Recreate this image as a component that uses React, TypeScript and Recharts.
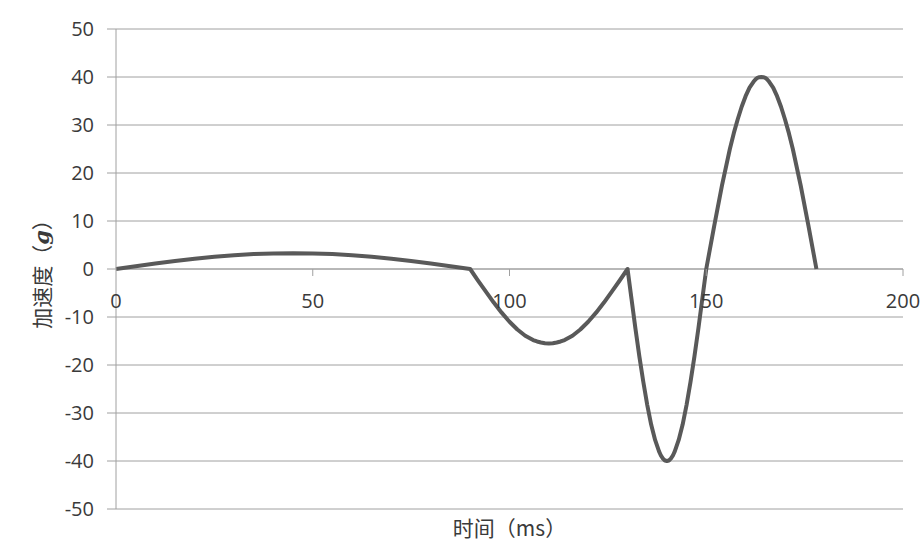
import { CartesianGrid, Line, LineChart, ReferenceLine, XAxis, YAxis } from "recharts";

// 时间 (ms)
const timeMs = [
  0, 5, 10, 15, 20, 25, 30, 35, 40, 45, 50, 55, 60, 65, 70, 75, 80, 85, 90,
  92, 94, 96, 98, 100, 102, 104, 106, 107, 108, 109, 110, 111, 112, 113, 114, 116, 118, 120, 122, 124, 126, 128, 130,
  131, 132, 133, 134, 135, 136, 137, 138, 138.5, 139, 139.5, 140, 140.5, 141, 141.5, 142, 143, 144, 145, 146, 147, 148, 149, 150,
  152, 154, 156, 157, 158, 159, 160, 161, 162, 162.5, 163, 163.5, 164, 164.5, 165, 165.5, 166, 167, 168, 169, 170, 171, 172, 174, 176, 178,
];

// 加速度 (g)
const accelG = [
  0, 0.57, 1.13, 1.65, 2.12, 2.53, 2.86, 3.1, 3.25, 3.3, 3.25, 3.1, 2.86, 2.53, 2.12, 1.65, 1.13, 0.57, 0,
  -2.4, -4.7, -7.0, -9.1, -11.0, -12.6, -13.9, -14.8, -15.1, -15.3, -15.45, -15.5, -15.45, -15.3, -15.1, -14.8, -13.9, -12.6, -11.0, -9.1, -7.0, -4.7, -2.4, 0,
  -6.2, -12.4, -18.2, -23.5, -28.3, -32.4, -35.6, -38.0, -38.9, -39.5, -39.9, -40, -39.9, -39.5, -38.9, -38.0, -35.6, -32.4, -28.3, -23.5, -18.2, -12.4, -6.2, 0,
  8.9, 17.4, 25.0, 28.3, 31.2, 33.8, 36.0, 37.8, 39.0, 39.5, 39.8, 39.95, 40, 39.95, 39.8, 39.5, 39.0, 37.8, 36.0, 33.8, 31.2, 28.3, 25.0, 17.4, 8.9, 0,
];

const xTicks = [0, 50, 100, 150, 200];
const yTicks = [-50, -40, -30, -20, -10, 0, 10, 20, 30, 40, 50];

const data = timeMs.map((t, i) => ({ t, a: accelG[i] }));

const W = 923;
const H = 546;
const TOP = 29;
const BOTTOM = 37;
const PLOT_H = H - TOP - BOTTOM;
const GRID = "#a0a0a0";
const TEXT = "#3a3a3a";
const FONT = "'Open Sans', 'Noto Sans', sans-serif";
const CJK = "'Noto Sans CJK SC', sans-serif";

// x axis crosses at y = 0, which is half way up the plot
function XTick({ x, y, payload }: any) {
  const y0 = y - PLOT_H / 2;
  return (
    <g>
      {payload.value !== 0 && <line x1={x} x2={x} y1={y0} y2={y0 + 7} stroke={GRID} />}
      <text
        x={x}
        y={y0 + 31}
        textAnchor="middle"
        dominantBaseline="central"
        fill={TEXT}
        fontSize={20}
        fontFamily={FONT}
      >
        {payload.value}
      </text>
    </g>
  );
}

function YTitle({ viewBox }: any) {
  const cx = viewBox.x + 41;
  const cy = viewBox.y + viewBox.height / 2;
  return (
    <text
      x={cx}
      y={cy}
      transform={`rotate(-90 ${cx} ${cy})`}
      textAnchor="middle"
      dominantBaseline="central"
      fill={TEXT}
      fontSize={21}
      fontFamily={CJK}
    >
      加速度（<tspan fontStyle="italic" fontWeight="bold" fontFamily="'DejaVu Serif', serif">g</tspan>）
    </text>
  );
}

function XTitle({ viewBox }: any) {
  return (
    <text
      x={viewBox.x + viewBox.width / 2}
      y={viewBox.y + 18}
      textAnchor="middle"
      dominantBaseline="central"
      fill={TEXT}
      fontSize={21}
      fontFamily={CJK}
    >
      时间（ms）
    </text>
  );
}

export default function App() {
  return (
    <div style={{ position: "absolute", left: 0, top: 0, background: "#fff" }}>
      <LineChart
        width={W}
        height={H}
        data={data}
        margin={{ top: TOP, right: 20, bottom: BOTTOM - 30, left: 0 }}
      >
        <CartesianGrid vertical={false} stroke={GRID} strokeDasharray="" />
        <XAxis
          dataKey="t"
          type="number"
          domain={[0, 200]}
          ticks={xTicks}
          axisLine={false}
          tickLine={false}
          tickSize={0}
          tickMargin={0}
          height={30}
          interval={0}
          tick={<XTick />}
          label={{ content: <XTitle /> }}
        />
        <YAxis
          type="number"
          domain={[-50, 50]}
          ticks={yTicks}
          width={116}
          interval={0}
          axisLine={{ stroke: GRID }}
          tickLine={{ stroke: GRID }}
          tickSize={9}
          tickMargin={13}
          tick={{ fill: TEXT, fontSize: 20, fontFamily: FONT }}
          label={{ content: <YTitle /> }}
        />
        <ReferenceLine y={0} stroke={GRID} />
        <Line
          dataKey="a"
          type="linear"
          stroke="#595959"
          strokeWidth={4}
          strokeLinejoin="round"
          dot={false}
          isAnimationActive={false}
        />
      </LineChart>
    </div>
  );
}
